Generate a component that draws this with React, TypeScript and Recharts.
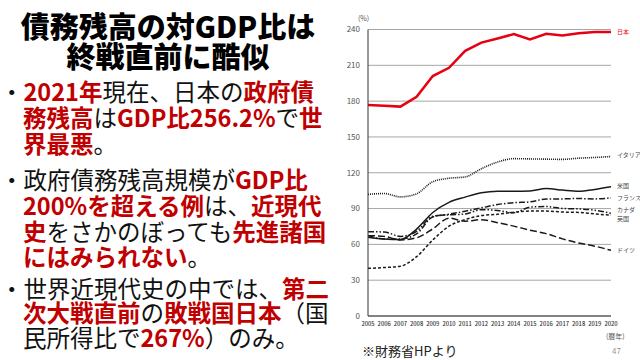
import React from "react";
import { LineChart, Line, XAxis, YAxis, CartesianGrid } from "recharts";

const years = ["2005", "2006", "2007", "2008", "2009", "2010", "2011", "2012", "2013", "2014", "2015", "2016", "2017", "2018", "2019", "2020"];
const japan = [176.8, 176.2, 175.4, 183.6, 201.0, 207.9, 222.1, 229.0, 232.5, 236.1, 231.6, 236.4, 235.0, 236.8, 238.0, 238.0];
const italy = [101.9, 102.6, 99.8, 102.4, 112.5, 115.4, 116.5, 123.4, 129.0, 131.8, 131.6, 131.4, 131.2, 132.2, 132.8, 133.6];
const us = [66.0, 64.5, 64.0, 72.8, 86.7, 95.2, 99.6, 103.3, 104.6, 104.6, 104.8, 106.8, 105.5, 104.5, 106.0, 108.2];
const france = [67.4, 64.6, 64.5, 68.8, 83.0, 85.3, 87.8, 90.6, 93.4, 94.9, 95.6, 98.0, 98.1, 98.4, 98.1, 99.0];
const canada = [70.6, 70.4, 66.7, 70.9, 83.6, 84.7, 85.5, 89.1, 88.4, 86.5, 91.2, 91.7, 90.1, 89.7, 88.6, 86.0];
const uk = [39.9, 40.6, 41.7, 49.7, 63.7, 75.2, 80.8, 84.1, 85.2, 87.0, 87.9, 87.9, 87.1, 86.8, 85.5, 84.5];
const germany = [67.3, 66.7, 63.7, 65.5, 73.0, 82.0, 79.4, 80.7, 78.2, 75.3, 71.9, 69.0, 64.6, 61.2, 58.5, 55.0];
const yTicks = [0, 30, 60, 90, 120, 150, 180, 210, 240];

const data = years.map((year, i) => ({
  year,
  japan: japan[i],
  italy: italy[i],
  us: us[i],
  france: france[i],
  canada: canada[i],
  uk: uk[i],
  germany: germany[i],
}));

const FONT = '"Noto Sans CJK JP", "Noto Sans", sans-serif';
const RED = "#c00000";
const INK = "#1a1a1a";

// name tag at the right end of each line
const endLabel = (text: string, color: string, dy: number) => (props: any) => {
  const { x, y, index } = props;
  if (index !== years.length - 1) return <g />;
  return (
    <text x={x + 6} y={y + dy} dy={2} fontSize={6} fill={color} fontFamily={FONT}>
      {text}
    </text>
  );
};

const R = ({ children }: { children: React.ReactNode }) => (
  <span style={{ color: RED, fontWeight: 700 }}>{children}</span>
);

const lines: { y: number; left: number; content: React.ReactNode }[] = [
  { y: 91, left: 0, content: <>・<R>2021年</R>現在、日本の<R>政府債</R></> },
  { y: 117, left: 23, content: <><R>務残高</R>は<R>GDP比256.2%</R>で<R>世</R></> },
  { y: 143, left: 23, content: <><R>界最悪</R>。</> },
  { y: 179, left: 0, content: <>・政府債務残高規模が<R>GDP比</R></> },
  { y: 205, left: 23, content: <><R>200%を超える例</R>は、<R>近現代</R></> },
  { y: 231, left: 23, content: <><R>史</R>をさかのぼっても<R>先進諸国</R></> },
  { y: 256, left: 23, content: <><R>にはみられない</R>。</> },
  { y: 288, left: 0, content: <>・世界近現代史の中では、<R>第二</R></> },
  { y: 312, left: 23, content: <><R>次大戦直前</R>の<R>敗戦国日本</R>（国</> },
  { y: 337, left: 23, content: <>民所得比で<R>267%</R>）のみ。</> },
];

export default function App() {
  return (
    <div
      style={{
        position: "absolute",
        left: 0,
        top: 0,
        width: 640,
        height: 360,
        background: "#fff",
        fontFamily: FONT,
        overflow: "hidden",
      }}
    >
      <div style={{ position: "absolute", left: 0, width: 336, top: 10, textAlign: "center", fontSize: 29, fontWeight: 900, lineHeight: "30px", color: "#000" }}>
        債務残高の対GDP比は
        <br />
        終戦直前に酷似
      </div>

      {lines.map((l, i) => (
        <div
          key={i}
          style={{
            position: "absolute",
            left: l.left,
            top: l.y - 11.5,
            fontSize: 23.5,
            lineHeight: "23px",
            whiteSpace: "nowrap",
            color: "#111",
          }}
        >
          {l.content}
        </div>
      ))}

      <div style={{ position: "absolute", left: 330, top: 0 }}>
        <LineChart width={310} height={345} data={data} margin={{ top: 29.5, right: 29, left: 8, bottom: 15 }}>
          <CartesianGrid vertical={false} stroke="#a6a6a6" strokeWidth={1} />
          <XAxis
            dataKey="year"
            interval={0}
            tickLine={false}
            tickSize={4}
            tickMargin={2}
            height={14}
            axisLine={{ stroke: "#333" }}
            tick={{ fontSize: 5.8, fill: "#333", fontFamily: FONT, fontWeight: 500 }}
          />
          <YAxis
            width={30}
            domain={[0, 240]}
            ticks={yTicks}
            tickLine={false}
            axisLine={{ stroke: "#333" }}
            tick={{ fontSize: 8, fill: "#555", fontFamily: FONT }}
          />
          <Line type="linear" dataKey="japan" stroke="#e60012" strokeWidth={2.5} dot={false} isAnimationActive={false} label={endLabel("日本", "#e60012", 0)} />
          <Line type="monotone" dataKey="italy" stroke={INK} strokeWidth={1.6} strokeDasharray="1 1" dot={false} isAnimationActive={false} label={endLabel("イタリア", "#444", -2)} />
          <Line type="monotone" dataKey="us" stroke={INK} strokeWidth={1.5} dot={false} isAnimationActive={false} label={endLabel("米国", "#444", -1)} />
          <Line type="monotone" dataKey="france" stroke={INK} strokeWidth={1.5} strokeDasharray="6 2 1.5 2" dot={false} isAnimationActive={false} label={endLabel("フランス", "#444", 0)} />
          <Line type="monotone" dataKey="canada" stroke={INK} strokeWidth={1.5} strokeDasharray="6 2 1.5 2 1.5 2" dot={false} isAnimationActive={false} label={endLabel("カナダ", "#444", -3)} />
          <Line type="monotone" dataKey="uk" stroke={INK} strokeWidth={1.5} strokeDasharray="3 2" dot={false} isAnimationActive={false} label={endLabel("英国", "#444", 4)} />
          <Line type="monotone" dataKey="germany" stroke={INK} strokeWidth={1.5} strokeDasharray="7 3" dot={false} isAnimationActive={false} label={endLabel("ドイツ", "#444", 0)} />
        </LineChart>
      </div>

      <div style={{ position: "absolute", left: 358, top: 15, fontSize: 7, color: "#555", lineHeight: 1 }}>(%)</div>
      <div style={{ position: "absolute", left: 606, top: 333, fontSize: 7, color: "#555", lineHeight: 1 }}>(暦年)</div>
      <div style={{ position: "absolute", left: 362, top: 344, fontSize: 13, color: "#222", lineHeight: 1 }}>※財務省HPより</div>
      <div style={{ position: "absolute", left: 612, top: 347, fontSize: 8, color: "#999", lineHeight: 1 }}>47</div>
    </div>
  );
}
